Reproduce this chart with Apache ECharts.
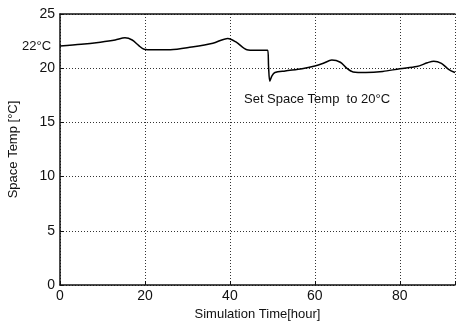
<!DOCTYPE html>
<html>
<head>
<meta charset="utf-8">
<script src="https://cdn.jsdelivr.net/npm/echarts@6/dist/echarts.min.js"></script>
<style>
  html, body { margin: 0; padding: 0; background: #fff; }
  #chart { width: 457px; height: 321px; }
</style>
</head>
<body>
<div id="chart"></div>
<script>
// simulation time [hour] and space temperature [°C]
const hours = [0, 5, 9.5, 13, 15.3, 17, 18.5, 19.8, 22, 26, 31, 36, 39.5, 41.5, 44, 46, 48.9,
  49.1, 49.4, 49.9, 50.6, 53, 57, 60, 62, 64, 66, 67.5, 69, 72, 76, 80, 84, 86.5, 88, 89.8, 91.5, 93];
const temps = [22.05, 22.2, 22.4, 22.6, 22.8, 22.6, 22.1, 21.75, 21.7, 21.7, 21.95, 22.3, 22.75, 22.4, 21.7, 21.65, 21.65,
  20.2, 18.8, 19.3, 19.6, 19.75, 19.95, 20.2, 20.45, 20.75, 20.55, 20.0, 19.65, 19.6, 19.7, 19.95, 20.15, 20.5, 20.65, 20.45, 19.9, 19.6];
const xTicks = [0, 20, 40, 60, 80];
const yTicks = [0, 5, 10, 15, 20, 25];

const chart = echarts.init(document.getElementById('chart'));
const font = 'Liberation Sans, Arial, sans-serif';
const dotted = { show: true, lineStyle: { color: '#333', type: [1, 2], width: 1 } };

chart.setOption({
  animation: false,
  textStyle: { fontFamily: font },
  grid: { left: 60, top: 14, right: 2, bottom: 36, containLabel: false, outerBoundsMode: 'none' },
  xAxis: [{
    type: 'value', min: 0, max: 93, interval: 20,
    name: 'Simulation Time[hour]', nameLocation: 'middle', nameGap: 23,
    nameTextStyle: { color: '#111', fontSize: 13, fontFamily: font },
    axisLine: { lineStyle: { color: '#111', width: 1.5 } },
    axisTick: { inside: true, length: 4, lineStyle: { color: '#111' } },
    axisLabel: { color: '#111', fontSize: 14, margin: 4,
      formatter: v => xTicks.includes(v) ? String(v) : '' },
    splitLine: dotted
  }, {
    type: 'value', position: 'top', min: 0, max: 93,
    axisLine: { show: true, lineStyle: { color: '#111', width: 1.5 } },
    axisTick: { show: false }, axisLabel: { show: false }, splitLine: { show: false }
  }],
  yAxis: {
    type: 'value', min: 0, max: 25, interval: 5,
    name: 'Space Temp [°C]', nameLocation: 'middle', nameGap: 40,
    nameTextStyle: { color: '#111', fontSize: 13, fontFamily: font },
    axisLine: { show: true, lineStyle: { color: '#111', width: 1.5 } },
    axisTick: { show: true, inside: true, length: 4, lineStyle: { color: '#111' } },
    axisLabel: { color: '#111', fontSize: 14, margin: 5,
      formatter: v => yTicks.includes(v) ? String(v) : '' },
    splitLine: dotted
  },
  series: [{
    type: 'line',
    data: hours.map((h, i) => [h, temps[i]]),
    showSymbol: false,
    smooth: 0.3,
    lineStyle: { color: '#000', width: 1.5 }
  }],
  graphic: [
    { type: 'text', left: 22, top: 40,
      style: { text: '22°C', fill: '#111', fontSize: 13, fontFamily: font } },
    { type: 'text', left: 244, top: 93,
      style: { text: 'Set Space Temp  to 20°C', fill: '#111', fontSize: 13, fontFamily: font } }
  ]
});
</script>
</body>
</html>
